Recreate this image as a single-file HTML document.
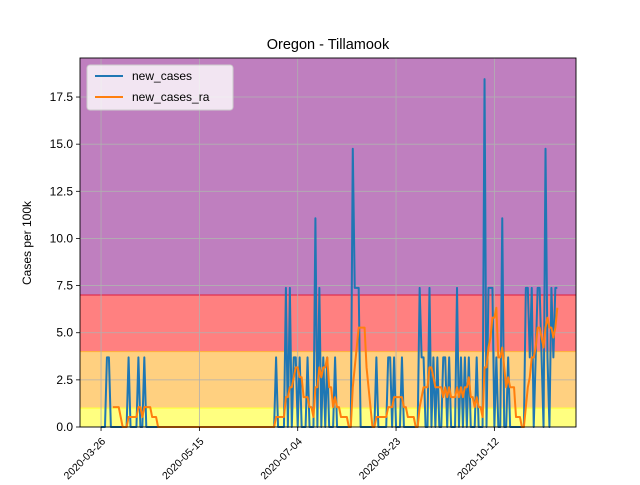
<!DOCTYPE html>
<html><head><meta charset="utf-8"><style>
body{margin:0;background:#fff}
svg{font-family:"Liberation Sans","DejaVu Sans",sans-serif}
</style></head><body>
<svg id="chart" width="640" height="480" xmlns="http://www.w3.org/2000/svg">
<rect width="640" height="480" fill="#fff"/>
<text x="328" y="49" text-anchor="middle" font-size="14.5">Oregon - Tillamook</text>
<text transform="translate(31,243) rotate(-90)" text-anchor="middle" font-size="12">Cases per 100k</text>
<g id="plot"></g>
</svg>
<script>
const spikeDays   = [3,4,14,19,22,89,94,96,98,99,101,105,109,111,113,115,119,128,129,130,131,140,146,147,149,153,162,163,164,167,169,171,174,175,177,181,183,185,187,191,195,197,198,199,201,204,207,216,217,218,219,221,222,223,224,226,227,229,230,231,232];
const spikeCounts = [1,1,1,1,1,1,2,2,1,1,1,1,3,2,1,1,1,4,2,2,2,1,1,1,1,1,2,1,1,2,1,1,1,1,1,2,1,1,1,1,5,2,2,2,1,3,1,2,2,1,2,1,2,2,1,4,1,2,1,2,2];
const perCase = 3.69;
const nDays = 233;
const startDate = new Date(Date.UTC(2020,2,26));
const tickDays = [0,50,100,150,200];
const yTicks = [0,2.5,5,7.5,10,12.5,15,17.5];
const bands = [[0,1,'#ffff80'],[1,4,'#ffd080'],[4,7,'#ff8080'],[7,100,'#bf7fbf']];
const bandEdge = [[1,'#ffff40'],[4,'#ffb040'],[7,'#e03050']];

const L=80,R=576,T=58,B=427;
const xMin=-10.7,xMax=241.5,yMax=19.57;
const X=d=>L+(d-xMin)/(xMax-xMin)*(R-L);
const Y=v=>B-v/yMax*(B-T);
const NS='http://www.w3.org/2000/svg';
const g=document.getElementById('plot');
function mk(tag,attrs,parent){const e=document.createElementNS(NS,tag);for(const k in attrs)e.setAttribute(k,attrs[k]);(parent||g).appendChild(e);return e;}

const cases=new Array(nDays).fill(0);
spikeDays.forEach((d,i)=>{cases[d]=spikeCounts[i]*perCase;});
const ra=cases.map((v,i)=>{if(i<6)return null;let s=0;for(let j=i-6;j<=i;j++)s+=cases[j];return s/7;});

bands.forEach(b=>{
  const r=mk('rect',{x:L,y:Y(Math.min(b[1],yMax)),width:R-L,height:Y(b[0])-Y(Math.min(b[1],yMax)),fill:b[2]});
  
  
});
bandEdge.forEach(b=>{mk('line',{x1:L,x2:R,y1:Y(b[0]),y2:Y(b[0]),stroke:b[1],'stroke-width':1.2});});

tickDays.forEach(d=>{const x=X(d);mk('line',{x1:x,x2:x,y1:T,y2:B,stroke:'#b0b0b0','stroke-width':0.8});});
yTicks.forEach(v=>{const y=Y(v);mk('line',{x1:L,x2:R,y1:y,y2:y,stroke:'#b0b0b0','stroke-width':0.8});});

function pts(arr){let s='';arr.forEach((v,i)=>{if(v!==null)s+=X(i).toFixed(2)+','+Y(v).toFixed(2)+' ';});return s;}
const bl=mk('polyline',{points:pts(cases),fill:'none',stroke:'#1f77b4','stroke-width':2,'stroke-linejoin':'round'});


const ol=mk('polyline',{points:pts(ra),fill:'none',stroke:'#ff7f0e','stroke-width':2,'stroke-linejoin':'round'});



mk('rect',{x:L,y:T,width:R-L,height:B-T,fill:'none',stroke:'#000','stroke-width':0.9});

yTicks.forEach(v=>{const y=Y(v);mk('line',{x1:L-4,x2:L,y1:y,y2:y,stroke:'#000','stroke-width':0.8});
  const t=mk('text',{x:L-7,y:y+4,'text-anchor':'end','font-size':12});t.textContent=v.toFixed(1);
  
  });
tickDays.forEach(d=>{const x=X(d);mk('line',{x1:x,x2:x,y1:B,y2:B+4,stroke:'#000','stroke-width':0.8});
  const dt=new Date(startDate.getTime()+d*86400000);
  const s=dt.toISOString().slice(0,10);
  const t=mk('text',{transform:`translate(${x+5},${B+15}) rotate(-45)`,'text-anchor':'end','font-size':10.5});t.textContent=s;
  
  });

const lg=mk('g',{});


mk('rect',{x:87,y:65,width:146,height:45,rx:3,fill:'#fff','fill-opacity':0.8,stroke:'#ccc'},lg);
mk('line',{x1:95,x2:123,y1:76,y2:76,stroke:'#1f77b4','stroke-width':2},lg);
mk('line',{x1:95,x2:123,y1:97,y2:97,stroke:'#ff7f0e','stroke-width':2},lg);
const t1=mk('text',{x:132,y:80,'font-size':12},lg);t1.textContent='new_cases';


const t2=mk('text',{x:132,y:101,'font-size':12},lg);t2.textContent='new_cases_ra';


</script>
</body></html>
